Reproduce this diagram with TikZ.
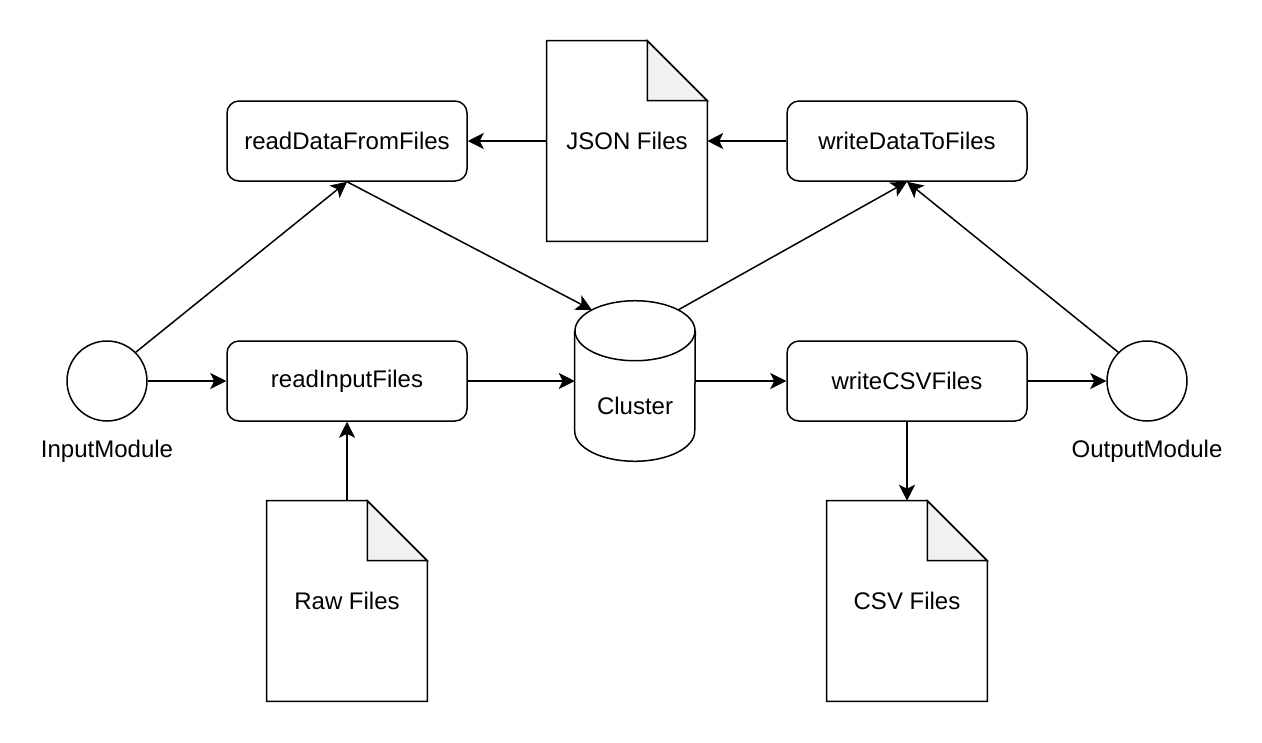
\documentclass[tikz,border=0pt]{standalone}
\usepackage{fontspec}
\setmainfont{Liberation Sans}
\usetikzlibrary{arrows.meta}
\definecolor{foldgray}{HTML}{F1F1F1}
\tikzset{
  line/.style={line width=1.125pt, draw=black},
  arr/.style={line, -{Stealth[length=12pt, width=12pt, inset=3pt]}},
  procbox/.style={line, rounded corners=9pt, minimum width=180pt, minimum height=60pt, inner sep=0pt, font=\fontsize{18pt}{22pt}\selectfont},
  docbox/.style={minimum width=120pt, minimum height=150pt, inner sep=0pt, font=\fontsize{18pt}{22pt}\selectfont},
  modcircle/.style={line, circle, minimum size=60pt, inner sep=0pt},
  lbl/.style={font=\fontsize{18pt}{22pt}\selectfont, inner sep=0pt},
}
\newcommand{\drawdoc}[1]{%
  \draw[line, line join=miter] (#1.south west) -- (#1.north west) -- ([xshift=-45pt]#1.north east) -- ([yshift=-45pt]#1.north east) -- (#1.south east) -- cycle;
  \draw[line, fill=foldgray] ([xshift=-45pt]#1.north east) -- ([xshift=-45pt,yshift=-45pt]#1.north east) -- ([yshift=-45pt]#1.north east) -- cycle;}
\begin{document}
\begin{tikzpicture}[x=0.75pt, y=-0.75pt]
\useasboundingbox (0,0) rectangle (1262,742);
% process boxes
\node[procbox] (readdata) at (347,141) {readDataFromFiles};
\node[procbox] (writedata) at (907,141) {writeDataToFiles};
\node[procbox] (readin) at (347,381) {readInputFiles};
\node[procbox] (writecsv) at (907,381) {writeCSVFiles};
% documents
\node[docbox] (json) at (627,141) {JSON Files};
\node[docbox] (raw) at (347,601) {Raw Files};
\node[docbox] (csv) at (907,601) {CSV Files};
\drawdoc{json}
\drawdoc{raw}
\drawdoc{csv}
% modules
\node[modcircle] (inmod) at (107,381) {};
\node[modcircle] (outmod) at (1147,381) {};
\node[lbl] (inlabel) at (107,451) {InputModule};
\node[lbl] (outlabel) at (1147,451) {OutputModule};
% cluster cylinder
\node[minimum width=90pt, minimum height=120pt, inner sep=0pt] (cluster) at (635,381) {};
\draw[line] ([yshift=-22.5pt]cluster.north west) -- ([yshift=22.5pt]cluster.south west)
  arc[start angle=180, end angle=360, x radius=45pt, y radius=22.5pt]
  -- ([yshift=-22.5pt]cluster.north east);
\draw[line] ([yshift=-22.5pt]cluster.north) ellipse[x radius=45pt, y radius=22.5pt];
\node[lbl] (clusterlabel) at (635,406) {Cluster};
\coordinate (ctl) at (592,310);
\coordinate (ctr) at (678,310);
% connectors
\draw[arr] (inmod) -- (readin);
\draw[arr] (inmod.45) -- (readdata.south);
\draw[arr] (readdata.south) -- (ctl);
\draw[arr] (json) -- (readdata);
\draw[arr] (writedata) -- (json);
\draw[arr] (ctr) -- (writedata.south);
\draw[arr] (outmod.135) -- (writedata.south);
\draw[arr] (readin) -- (cluster);
\draw[arr] (cluster) -- (writecsv);
\draw[arr] (writecsv) -- (outmod);
\draw[arr] (raw) -- (readin);
\draw[arr] (writecsv) -- (csv);
\end{tikzpicture}
\end{document}
